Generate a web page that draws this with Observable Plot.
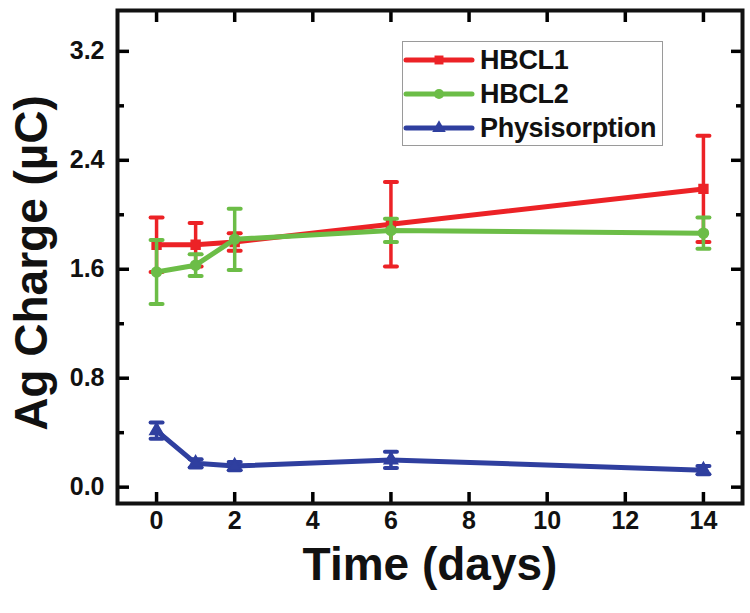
<!DOCTYPE html>
<html>
<head>
<meta charset="utf-8">
<script src="https://cdn.jsdelivr.net/npm/d3@7"></script>
<script src="https://cdn.jsdelivr.net/npm/@observablehq/plot@0.6"></script>
<style>
  body { margin: 0; background: #fff; }
  #wrap { position: relative; width: 750px; height: 613px; font-family: "Liberation Sans", Arial, sans-serif; }
  #legend { position: absolute; left: 402px; top: 41px; width: 259px; height: 103px; border: 1.5px solid #9a9a9a; background: #fff; }
  .row { position: absolute; left: 0; height: 34px; display: flex; align-items: center; }
  .row span { font-size: 27px; font-weight: bold; color: #111; margin-left: 5px; letter-spacing: -0.3px; }
</style>
</head>
<body>
<div id="wrap"></div>
<script>
const days = [0, 1, 2, 6, 14];
const seriesNames = ["HBCL1", "HBCL2", "Physisorption"];
const hbcl1 = [1.78, 1.78, 1.80, 1.93, 2.19];
const hbcl1Err = [0.20, 0.16, 0.065, 0.31, 0.39];
const hbcl2 = [1.58, 1.63, 1.82, 1.885, 1.865];
const hbcl2Err = [0.235, 0.08, 0.225, 0.085, 0.115];
const phys = [0.415, 0.175, 0.155, 0.20, 0.125];
const physErr = [0.06, 0.03, 0.03, 0.06, 0.03];
const xTicks = [0, 2, 4, 6, 8, 10, 12, 14];
const yTicks = [0, 0.8, 1.6, 2.4, 3.2];
const yMinorTicks = [0.4, 1.2, 2.0, 2.8];
const colors = ["#ec2226", "#6cbd47", "#2f3f9f"];
const symbols = ["square", "circle", "triangle"];

const values = [hbcl1, hbcl2, phys];
const errs = [hbcl1Err, hbcl2Err, physErr];
const rows = seriesNames.flatMap((s, k) => days.map((d, i) => ({series: s, day: d, v: values[k][i], e: errs[k][i]})));

const capSymbol = {draw(ctx, size) { const w = Math.sqrt(size / Math.PI); ctx.moveTo(-w, 0); ctx.lineTo(w, 0); }};

const seriesMarks = seriesNames.flatMap((s, k) => {
  const data = rows.filter(r => r.series === s);
  const c = colors[k];
  return [
    Plot.line(data, {x: "day", y: "v", stroke: c, strokeWidth: 5, strokeLinejoin: "round"}),
    Plot.ruleX(data, {x: "day", y1: d => d.v - d.e, y2: d => d.v + d.e, stroke: c, strokeWidth: 3.5}),
    Plot.dot(data, {x: "day", y: d => d.v + d.e, symbol: capSymbol, r: 6, stroke: c, strokeWidth: 4, strokeLinecap: "round"}),
    Plot.dot(data, {x: "day", y: d => d.v - d.e, symbol: capSymbol, r: 6, stroke: c, strokeWidth: 4, strokeLinecap: "round"}),
    Plot.dot(data, {x: "day", y: "v", symbol: symbols[k], r: 5, fill: c, stroke: c})
  ];
});

const axisFont = {fontSize: 25, fontWeight: "bold", fill: "#111"};

const chart = Plot.plot({
  width: 750,
  height: 613,
  marginLeft: 117,
  marginRight: 8,
  marginTop: 10,
  marginBottom: 110,
  style: {fontFamily: "'Liberation Sans', Arial, sans-serif", background: "#fff", overflow: "visible"},
  x: {domain: [-1, 15]},
  y: {domain: [-0.12, 3.5]},
  marks: [
    ...seriesMarks,
    Plot.axisX({anchor: "bottom", ticks: xTicks, tickSize: -11, tickPadding: 19, tickFormat: d => String(d), strokeWidth: 3.5, label: null, ...axisFont}),
    Plot.axisX({anchor: "top", ticks: xTicks, tickSize: -11, tickFormat: () => "", strokeWidth: 3.5, label: null}),
    Plot.axisY({anchor: "left", ticks: yTicks, tickSize: -12, tickPadding: 25, tickFormat: d3.format(".1f"), strokeWidth: 3.5, label: null, ...axisFont}),
    Plot.axisY({anchor: "left", ticks: yMinorTicks, tickSize: -7, tickFormat: () => "", strokeWidth: 3.5, label: null}),
    Plot.axisY({anchor: "right", ticks: yTicks, tickSize: -12, tickFormat: () => "", strokeWidth: 3.5, label: null}),
    Plot.axisY({anchor: "right", ticks: yMinorTicks, tickSize: -7, tickFormat: () => "", strokeWidth: 3.5, label: null}),
    Plot.frame({stroke: "#111", strokeWidth: 4}),
    Plot.text(["Time (days)"], {frameAnchor: "bottom", dy: 76, fontSize: 46, fontWeight: "bold", fill: "#111"}),
    Plot.text(["Ag Charge (µC)"], {frameAnchor: "left", textAnchor: "middle", dx: -85, dy: 6, rotate: -90, fontSize: 46, fontWeight: "bold", fill: "#111"})
  ]
});

const wrap = document.getElementById("wrap");
wrap.appendChild(chart);

// legend
const legend = document.createElement("div");
legend.id = "legend";
const rowTops = [1, 35, 69];
seriesNames.forEach((s, k) => {
  const row = document.createElement("div");
  row.className = "row";
  row.style.top = rowTops[k] + "px";
  const ns = "http://www.w3.org/2000/svg";
  const svg = document.createElementNS(ns, "svg");
  svg.setAttribute("width", 72);
  svg.setAttribute("height", 20);
  const ln = document.createElementNS(ns, "line");
  ln.setAttribute("x1", 3); ln.setAttribute("x2", 69); ln.setAttribute("y1", 10); ln.setAttribute("y2", 10);
  ln.setAttribute("stroke", colors[k]); ln.setAttribute("stroke-width", 5); ln.setAttribute("stroke-linecap", "round");
  svg.appendChild(ln);
  const sym = document.createElementNS(ns, "path");
  sym.setAttribute("d", d3.symbol(k === 0 ? d3.symbolSquare : k === 1 ? d3.symbolCircle : d3.symbolTriangle, 80)());
  sym.setAttribute("transform", "translate(36,10)");
  sym.setAttribute("fill", colors[k]);
  svg.appendChild(sym);
  row.appendChild(svg);
  const t = document.createElement("span");
  t.textContent = s;
  row.appendChild(t);
  legend.appendChild(row);
});
wrap.appendChild(legend);
</script>
</body>
</html>
